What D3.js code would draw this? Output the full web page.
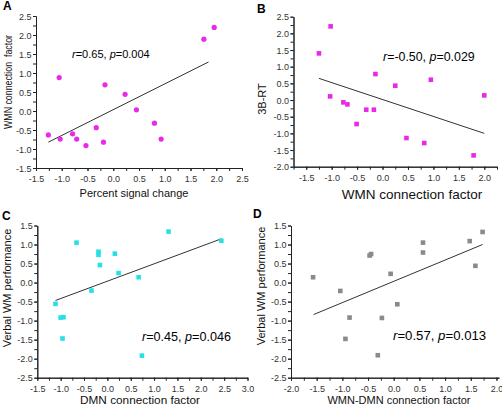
<!DOCTYPE html>
<html><head><meta charset="utf-8">
<script src="https://cdnjs.cloudflare.com/ajax/libs/d3/7.8.5/d3.min.js"></script>
<style>
body{margin:0;background:#fff}
svg{display:block}
text{font-family:"Liberation Sans",Arial,Helvetica,sans-serif}
</style>
</head><body>
<svg id="c" width="502" height="410"></svg>
<script>
// ---------- Panel A ----------
const aX = [-1.26,-1.03,-1.05,-0.79,-0.71,-0.53,-0.33,-0.19,-0.16,0.23,0.45,0.80,0.93,1.76,1.96];
const aY = [-0.63,-0.74,0.88,-0.60,-0.74,-0.91,-0.44,-0.82,0.69,0.44,0.03,-0.32,-0.74,1.89,2.20];
const aFitX = [-1.26, 1.85];
const aFitY = [-0.82, 1.29];
const aXTicks = [-1.5,-1.0,-0.5,0.0,0.5,1.0,1.5,2.0,2.5];
const aYTicks = [-1.5,-1.0,-0.5,0.0,0.5,1.0,1.5,2.0,2.5];
const aStat = ["0.65","0.004"];

// ---------- Panel B ----------
const bX = [-1.25,-1.02,-1.03,-0.77,-0.69,-0.51,-0.32,-0.17,-0.14,0.25,0.47,0.82,0.95,1.79,2.00];
const bY = [1.40,2.21,0.11,-0.07,-0.13,-0.72,-0.29,-0.29,0.78,0.43,-1.14,-1.29,0.61,-1.66,0.14];
const bFitX = [-1.25, 2.00];
const bFitY = [0.65, -1.00];
const bXTicks = [-1.5,-1.0,-0.5,0.0,0.5,1.0,1.5,2.0];
const bYTicks = [-2.0,-1.5,-1.0,-0.5,0.0,0.5,1.0,1.5,2.0,2.5];
const bStat = ["-0.50","0.029"];

// ---------- Panel C ----------
const cX = [-1.11,-1.00,-0.94,-0.96,-0.66,-0.34,-0.19,-0.19,-0.16,0.16,0.24,0.67,0.74,1.31,2.44];
const cY = [-0.56,-0.92,-0.91,-1.47,1.05,-0.21,0.81,0.73,0.46,0.76,0.25,0.14,-1.92,1.34,1.10];
const cFitX = [-1.11, 2.44];
const cFitY = [-0.47, 1.15];
const cXTicks = [-1.5,-1.0,-0.5,0.0,0.5,1.0,1.5,2.0,2.5,3.0];
const cYTicks = [-2.5,-2.0,-1.5,-1.0,-0.5,0.0,0.5,1.0,1.5];
const cStat = ["0.45","0.046"];

// ---------- Panel D ----------
const dX = [-1.57,-1.04,-0.86,-0.94,-0.47,-0.44,-0.23,-0.31,-0.06,0.07,0.57,0.57,1.48,1.59,1.73];
const dY = [0.14,-0.22,-0.92,-1.48,0.71,0.75,-0.93,-1.91,0.23,-0.57,1.05,0.79,1.09,0.44,1.33];
const dFitX = [-1.56, 1.73];
const dFitY = [-0.84, 1.00];
const dXTicks = [-2.0,-1.5,-1.0,-0.5,0.0,0.5,1.0,1.5,2.0];
const dYTicks = [-2.5,-2.0,-1.5,-1.0,-0.5,0.0,0.5,1.0,1.5];
const dStat = ["0.57","0.013"];

const svg = d3.select("#c");
const fmt = v => v.toFixed(1);

const panels = [
  {letter:"A", x:aX, y:aY, fx:aFitX, fy:aFitY, xt:aXTicks, yt:aYTicks, stat:aStat,
   xdom:[-1.5,2.5], xr:[36,242], ydom:[-1.5,2.5], yr:[168,16],
   shape:"circle", color:"#e82ae8",
   xtitle:"Percent signal change", xtPos:[134,197], xtSize:11,
   ytitle:"WMN connection\u00a0 factor", ytPos:[12,82], ytSize:10.5, ytLen:94,
   statPos:[72,58], statSize:11, letterPos:[3,10]},
  {letter:"B", x:bX, y:bY, fx:bFitX, fy:bFitY, xt:bXTicks, yt:bYTicks, stat:bStat,
   xdom:[-1.75,2.25], xr:[293.5,497], ydom:[-2.0,2.5], yr:[166.7,16.7],
   shape:"square", color:"#e82ae8",
   xtitle:"WMN connection factor", xtPos:[412,199], xtSize:13.5,
   ytitle:"3B-RT", ytPos:[266,99], ytSize:11,
   statPos:[383,61], statSize:12.4, letterPos:[257,13]},
  {letter:"C", x:cX, y:cY, fx:cFitX, fy:cFitY, xt:cXTicks, yt:cYTicks, stat:cStat,
   xdom:[-1.5,3.0], xr:[37.3,247.5], ydom:[-2.5,1.5], yr:[377.7,225.5],
   shape:"square", color:"#26e0e8",
   xtitle:"DMN connection factor", xtPos:[140,404], xtSize:11.8,
   ytitle:"Verbal WM performance", ytPos:[11,288], ytSize:11,
   statPos:[142,341], statSize:12.6, letterPos:[2,220]},
  {letter:"D", x:dX, y:dY, fx:dFitX, fy:dFitY, xt:dXTicks, yt:dYTicks, stat:dStat,
   xdom:[-2.0,2.05], xr:[291,499], ydom:[-2.5,1.5], yr:[377.7,225.5],
   shape:"square", color:"#8a8a8a",
   xtitle:"WMN-DMN connection factor", xtPos:[399,404], xtSize:11,
   ytitle:"Verbal WM performance", ytPos:[265,286], ytSize:11,
   statPos:[393,340], statSize:13.2, letterPos:[253,218]}
];

function minorTicks(dom, step){
  const out=[]; const s=Math.ceil(dom[0]/step-1e-9);
  for(let k=s; k*step<=dom[1]+1e-9; k++) out.push(+(k*step).toFixed(4));
  return out;
}

function styleAxis(g){
  g.selectAll("path.domain").attr("stroke","#222").attr("stroke-width",1);
  g.selectAll(".tick line").attr("stroke","#222");
  g.selectAll(".tick text").attr("fill","#333").attr("font-size","9px")
    .attr("font-family","'Liberation Sans',Arial,sans-serif");
  g.attr("font-family",null).attr("font-size",null);
}

panels.forEach(p=>{
  const xs = d3.scaleLinear().domain(p.xdom).range(p.xr);
  const ys = d3.scaleLinear().domain(p.ydom).range(p.yr);
  const y0 = p.yr[0], x0 = p.xr[0];

  const gxm = svg.append("g").attr("transform",`translate(0,${y0})`)
    .call(d3.axisBottom(xs).tickValues(minorTicks(p.xdom,0.25)).tickSize(3).tickSizeOuter(0).tickFormat(""));
  const gym = svg.append("g").attr("transform",`translate(${x0},0)`)
    .call(d3.axisLeft(ys).tickValues(minorTicks(p.ydom,0.25)).tickSize(3).tickSizeOuter(0).tickFormat(""));
  styleAxis(gxm); styleAxis(gym);

  const gx = svg.append("g").attr("transform",`translate(0,${y0})`)
    .call(d3.axisBottom(xs).tickValues(p.xt).tickSize(3).tickSizeOuter(0).tickPadding(5).tickFormat(fmt));
  const gy = svg.append("g").attr("transform",`translate(${x0},0)`)
    .call(d3.axisLeft(ys).tickValues(p.yt).tickSize(3).tickSizeOuter(0).tickPadding(1.5).tickFormat(fmt));
  styleAxis(gx); styleAxis(gy);
  gy.selectAll(".tick text").attr("dy","0.34em");

  const fit = p.fx.map((v,i)=>[v,p.fy[i]]);
  svg.append("path").datum(fit)
    .attr("d", d3.line().x(d=>xs(d[0])).y(d=>ys(d[1])))
    .attr("fill","none").attr("stroke","#333").attr("stroke-width",1);

  const pts = p.x.map((v,i)=>[v,p.y[i]]);
  if(p.shape==="circle"){
    svg.append("g").selectAll("circle").data(pts).join("circle")
      .attr("cx",d=>xs(d[0])).attr("cy",d=>ys(d[1])).attr("r",2.6)
      .attr("fill",p.color);
  } else {
    const s=4.6;
    svg.append("g").selectAll("rect").data(pts).join("rect")
      .attr("x",d=>xs(d[0])-s/2).attr("y",d=>ys(d[1])-s/2)
      .attr("width",s).attr("height",s).attr("fill",p.color);
  }

  const t = svg.append("text").attr("x",p.statPos[0]).attr("y",p.statPos[1])
    .attr("font-size",p.statSize+"px").attr("fill","#000");
  t.append("tspan").attr("font-style","italic").text("r");
  t.append("tspan").text("="+p.stat[0]+", ");
  t.append("tspan").attr("font-style","italic").text("p");
  t.append("tspan").text("="+p.stat[1]);

  svg.append("text").attr("x",p.xtPos[0]).attr("y",p.xtPos[1])
    .attr("text-anchor","middle").attr("font-size",p.xtSize+"px").attr("fill","#111").text(p.xtitle);
  const yt = svg.append("text").attr("transform",`translate(${p.ytPos[0]},${p.ytPos[1]}) rotate(-90)`)
    .attr("text-anchor","middle").attr("font-size",p.ytSize+"px").attr("fill","#111").text(p.ytitle);
  if(p.ytLen) yt.attr("textLength",p.ytLen).attr("lengthAdjust","spacingAndGlyphs");

  svg.append("text").attr("x",p.letterPos[0]).attr("y",p.letterPos[1])
    .attr("font-size","12px").attr("font-weight","bold").attr("fill","#000").text(p.letter);
});
</script>
</body></html>
